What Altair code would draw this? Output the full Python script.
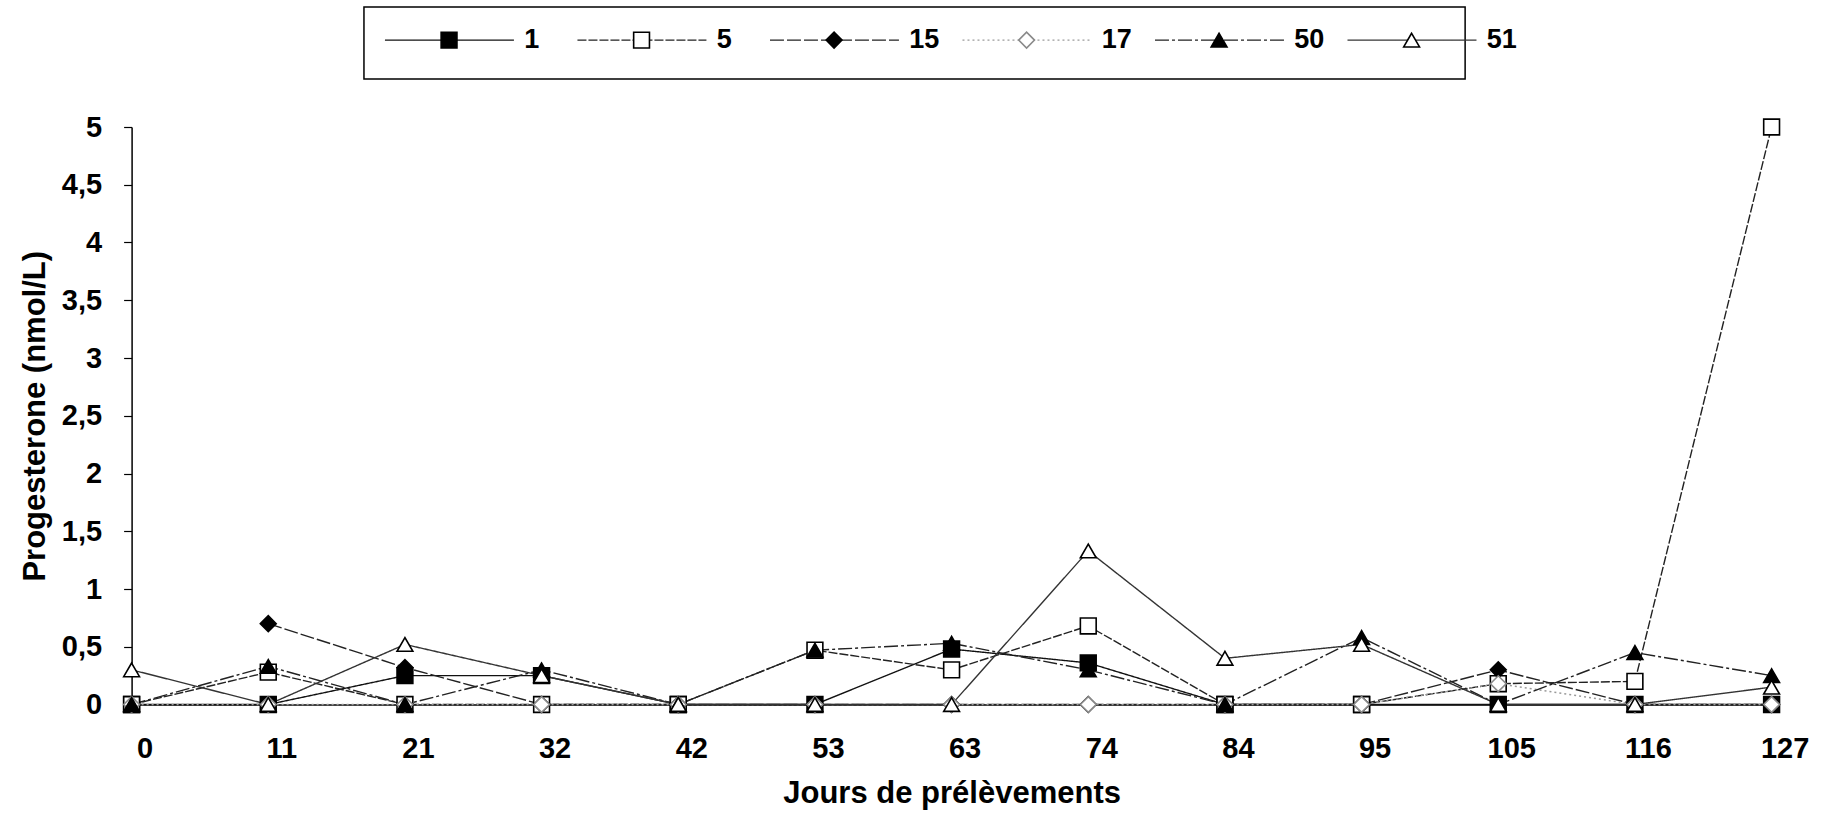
import altair as alt
import pandas as pd

days = [0, 11, 21, 32, 42, 53, 63, 74, 84, 95, 105, 116, 127]
series = ["1", "5", "15", "17", "50", "51"]
s1 = [0, 0, 0.25, 0.25, 0, 0, 0.48, 0.36, 0, 0, 0, 0, 0]
s5 = [0, 0.28, 0, 0, 0, 0.47, 0.30, 0.68, 0, 0, 0.18, 0.20, 5.0]
s15 = [None, 0.70, 0.32, 0, 0, 0, 0, 0, 0, 0, 0.30, 0, 0]
s17 = [0, 0, 0, 0, 0, 0, 0, 0, 0, 0, 0.18, 0, 0]
s50 = [0, 0.33, 0, 0.30, 0, 0.47, 0.53, 0.30, 0, 0.58, 0, 0.45, 0.25]
s51 = [0.30, 0, 0.52, 0.25, 0, 0, 0, 1.33, 0.40, 0.52, 0, 0, 0.15]
values = [s1, s5, s15, s17, s50, s51]
y_ticks = [0, 0.5, 1, 1.5, 2, 2.5, 3, 3.5, 4, 4.5, 5]

rows = []
for name, vals in zip(series, values):
    for d, v in zip(days, vals):
        if v is not None:
            rows.append({"day": d, "value": v, "series": name})
df = pd.DataFrame(rows)
leg = pd.DataFrame({"series": series, "li": list(range(len(series)))})

FONT = "Liberation Sans"
dom = series
color_sc = alt.Scale(domain=dom, range=["#111111", "#222222", "#222222", "#9a9a9a", "#222222", "#333333"])
dash_sc = alt.Scale(domain=dom, range=[[1, 0], [9, 2], [14, 3], [2, 3], [14, 3, 3, 3], [1, 0]])
shape_sc = alt.Scale(domain=dom, range=["square", "square", "diamond", "diamond", "triangle-up", "triangle-up"])
fill_sc = alt.Scale(domain=dom, range=["#000000", "#ffffff", "#000000", "#ffffff", "#000000", "#ffffff"])
stroke_sc = alt.Scale(domain=dom, range=["#000000", "#000000", "#000000", "#8a8a8a", "#000000", "#000000"])
size_sc = alt.Scale(domain=dom, range=[250, 250, 190, 190, 320, 320])

W, H = 1640, 577.5

base = alt.Chart(df)
x_enc = alt.X(
    "day:O",
    scale=alt.Scale(type="point", padding=0),
    axis=alt.Axis(
        title="Jours de prélèvements", labelAngle=0, ticks=False, labelPadding=30,
        labelOffset=13, domainColor="black", domainWidth=1.5,
        labelFontSize=29, labelFontWeight="bold", labelFont=FONT, labelColor="black",
        titleFontSize=31, titleFontWeight="bold", titleFont=FONT, titleColor="black",
        titlePadding=15,
    ),
)
y_enc = alt.Y(
    "value:Q",
    scale=alt.Scale(domain=[0, 5], nice=False, zero=True),
    axis=alt.Axis(
        title="Progesterone  (nmol/L)", values=y_ticks,
        labelExpr="replace(format(datum.value, '~g'), '.', ',')", grid=False,
        tickSize=8, tickColor="black", tickWidth=1.2, labelPadding=22,
        domainColor="black", domainWidth=1.5,
        labelFontSize=29, labelFontWeight="bold", labelFont=FONT, labelColor="black",
        titleFontSize=31, titleFontWeight="bold", titleFont=FONT, titleColor="black",
        titlePadding=10,
    ),
)

lines = base.mark_line(strokeWidth=1.4).encode(
    x=x_enc, y=y_enc,
    detail="series:N",
    color=alt.Color("series:N", scale=color_sc, legend=None),
    strokeDash=alt.StrokeDash("series:N", scale=dash_sc, legend=None),
)
points = base.mark_point(filled=False, strokeWidth=1.6, opacity=1).encode(
    x=alt.X("day:O"), y=alt.Y("value:Q"),
    shape=alt.Shape("series:N", scale=shape_sc, legend=None),
    fill=alt.Fill("series:N", scale=fill_sc, legend=None),
    stroke=alt.Stroke("series:N", scale=stroke_sc, legend=None),
    size=alt.Size("series:N", scale=size_sc, legend=None),
)
main = alt.layer(lines, points)

# legend drawn as a layer above the plot, through its own scales
lx = alt.Scale(domain=[-1.649, 6.870], nice=False, zero=False)
ly = alt.Scale(domain=[0, 1], range=[-48, -120], nice=False, zero=False)

box = alt.Chart(pd.DataFrame({"n": [len(series)]})).transform_calculate(
    bx0="-0.442", bx1="datum.n - 1 + 0.278", by0="0", by1="1"
).mark_rect(fill="white", stroke="black", strokeWidth=1.5).encode(
    x=alt.X("bx0:Q", scale=lx, axis=None),
    x2="bx1:Q",
    y=alt.Y("by0:Q", scale=ly, axis=None),
    y2="by1:Q",
)
lrule = alt.Chart(leg).transform_calculate(
    a="datum.li - 0.333", b="datum.li + 0.337", yy="0.54"
).mark_rule(strokeWidth=1.4).encode(
    x=alt.X("a:Q", scale=lx, axis=None),
    x2="b:Q",
    y=alt.Y("yy:Q", scale=ly, axis=None),
    color=alt.Color("series:N", scale=color_sc, legend=None),
    strokeDash=alt.StrokeDash("series:N", scale=dash_sc, legend=None),
)
lpoint = alt.Chart(leg).transform_calculate(yy="0.54").mark_point(
    filled=False, strokeWidth=1.6, opacity=1
).encode(
    x=alt.X("li:Q", scale=lx, axis=None),
    y=alt.Y("yy:Q", scale=ly, axis=None),
    shape=alt.Shape("series:N", scale=shape_sc, legend=None),
    fill=alt.Fill("series:N", scale=fill_sc, legend=None),
    stroke=alt.Stroke("series:N", scale=stroke_sc, legend=None),
    size=alt.Size("series:N", scale=size_sc, legend=None),
)
ltext = alt.Chart(leg).transform_calculate(tx="datum.li + 0.39", yy="0.54").mark_text(
    align="left", baseline="middle", fontSize=27, fontWeight="bold", font=FONT, color="black"
).encode(
    x=alt.X("tx:Q", scale=lx, axis=None),
    y=alt.Y("yy:Q", scale=ly, axis=None),
    text="series:N",
)
legend_layer = alt.layer(box, lrule, lpoint, ltext)

chart = alt.layer(main, legend_layer).resolve_scale(
    x="independent", y="independent"
).properties(
    width=W, height=H,
    padding={"left": 131.6, "top": 127, "right": 54.4, "bottom": 111.5},
    autosize=alt.AutoSizeParams(type="none"),
    background="white",
).configure_view(stroke=None)

chart.save("out.html", embed_options={"renderer": "svg", "actions": False})
